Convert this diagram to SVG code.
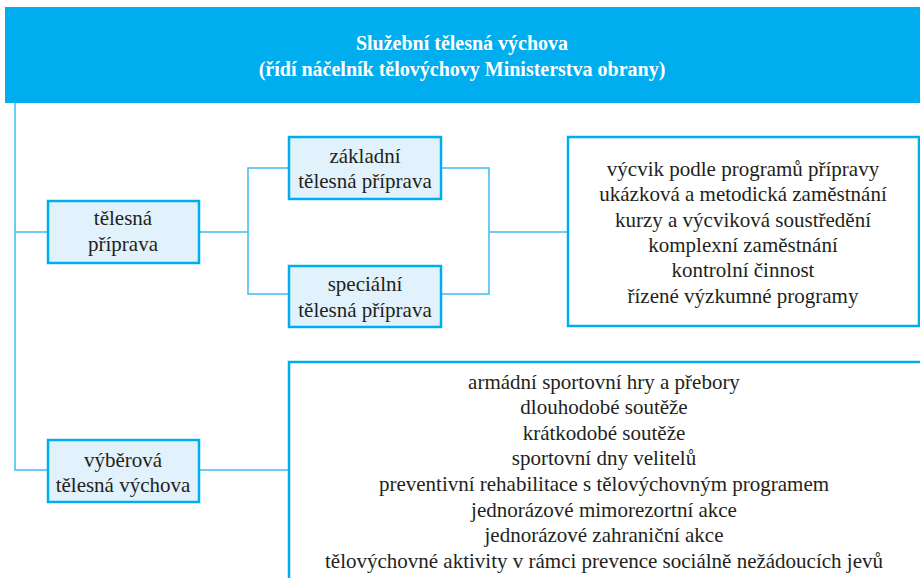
<svg xmlns="http://www.w3.org/2000/svg" width="920" height="578" viewBox="0 0 920 578">
<style>
svg g[id] text.t, svg g[id] text.ht, #header text, text { font-family: 'Liberation Serif', serif !important; }
.t { font-size: 21px; fill: #231F20; text-anchor: middle; }
.ht { font-size: 20px; font-weight: bold; fill: #FFFFFF; text-anchor: middle; }
.node { fill: #E1F2FC; stroke: #00AEEF; stroke-width: 2.5; }
.box { fill: #FFFFFF; stroke: #00AEEF; stroke-width: 2.5; }
.con { fill: none; stroke: #3DBDF0; stroke-width: 1.5; }
</style>
<rect width="920" height="578" fill="#FFFFFF"/>
<g id="connectors">
<polyline class="con" points="15,103 15,470 48,470"/>
<line class="con" x1="15" y1="232" x2="48" y2="232"/>
<line class="con" x1="199" y1="232" x2="248" y2="232"/>
<polyline class="con" points="289,168 248,168 248,294 289,294"/>
<polyline class="con" points="441,168 489,168 489,294 441,294"/>
<line class="con" x1="489" y1="232" x2="568" y2="232"/>
<line class="con" x1="199" y1="470" x2="289" y2="470"/>
</g>
<g id="header">
<rect x="5" y="7" width="915" height="96" fill="#00AEEF"/>
<text class="ht" x="462" y="50" font-family="Liberation Serif">Služební tělesná výchova</text>
<text class="ht" x="462" y="76" font-family="Liberation Serif">(řídí náčelník tělovýchovy Ministerstva obrany)</text>
</g>
<g id="telesna-priprava">
<rect class="node" x="48" y="201" width="151" height="62"/>
<text class="t" x="123" y="225" font-family="Liberation Serif">tělesná</text>
<text class="t" x="123" y="251" font-family="Liberation Serif">příprava</text>
</g>
<g id="zakladni">
<rect class="node" x="289" y="137" width="152" height="62"/>
<text class="t" x="365" y="163" font-family="Liberation Serif">základní</text>
<text class="t" x="365" y="188" font-family="Liberation Serif">tělesná příprava</text>
</g>
<g id="specialni">
<rect class="node" x="289" y="266" width="152" height="61"/>
<text class="t" x="365" y="291" font-family="Liberation Serif">speciální</text>
<text class="t" x="365" y="317" font-family="Liberation Serif">tělesná příprava</text>
</g>
<g id="priprava-list">
<rect class="box" x="568" y="137" width="351" height="189"/>
<text class="t" x="743" y="176" font-family="Liberation Serif">výcvik podle programů přípravy</text>
<text class="t" x="743" y="201" font-family="Liberation Serif">ukázková a metodická zaměstnání</text>
<text class="t" x="743" y="227" font-family="Liberation Serif">kurzy a výcviková soustředění</text>
<text class="t" x="743" y="252" font-family="Liberation Serif">komplexní zaměstnání</text>
<text class="t" x="743" y="277" font-family="Liberation Serif">kontrolní činnost</text>
<text class="t" x="743" y="303" font-family="Liberation Serif">řízené výzkumné programy</text>
</g>
<g id="vyberova">
<rect class="node" x="48" y="440" width="151" height="62"/>
<text class="t" x="123" y="467" font-family="Liberation Serif">výběrová</text>
<text class="t" x="123" y="492" font-family="Liberation Serif">tělesná výchova</text>
</g>
<g id="vychova-list">
<rect class="box" x="289" y="362" width="640" height="230"/>
<text class="t" x="604" y="389" font-family="Liberation Serif">armádní sportovní hry a přebory</text>
<text class="t" x="604" y="414" font-family="Liberation Serif">dlouhodobé soutěže</text>
<text class="t" x="604" y="440" font-family="Liberation Serif">krátkodobé soutěže</text>
<text class="t" x="604" y="465" font-family="Liberation Serif">sportovní dny velitelů</text>
<text class="t" x="604" y="491" font-family="Liberation Serif">preventivní rehabilitace s tělovýchovným programem</text>
<text class="t" x="604" y="517" font-family="Liberation Serif">jednorázové mimorezortní akce</text>
<text class="t" x="604" y="542" font-family="Liberation Serif">jednorázové zahraniční akce</text>
<text class="t" x="604" y="568" font-family="Liberation Serif">tělovýchovné aktivity v rámci prevence sociálně nežádoucích jevů</text>
</g>
</svg>
